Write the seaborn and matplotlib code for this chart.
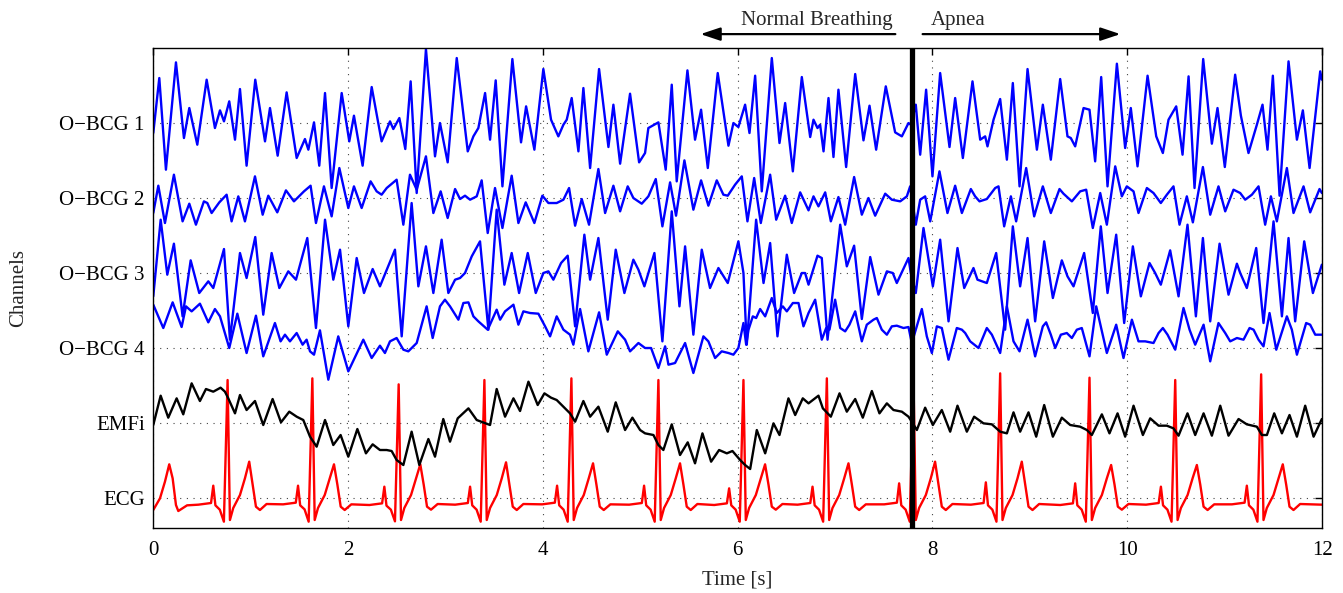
import numpy as np
import pandas as pd
import matplotlib
matplotlib.use("Agg")
import matplotlib.pyplot as plt
import seaborn as sns

# signal amplitudes in arbitrary units (225 units = one channel spacing)
SCALE = 225.0

channel_names = ["ECG", "EMFi", "O\u2212BCG 4", "O\u2212BCG 3", "O\u2212BCG 2", "O\u2212BCG 1"]

bcg1_t = [0.003, 0.065, 0.133, 0.236, 0.318, 0.373, 0.455, 0.551, 0.636, 0.688, 0.729, 0.783, 0.842, 0.893,
          0.961, 1.050, 1.150, 1.201, 1.280, 1.372, 1.475, 1.560, 1.595, 1.653, 1.707, 1.766, 1.834, 1.937,
          2.015, 2.063, 2.152, 2.245, 2.347, 2.433, 2.467, 2.529, 2.590, 2.645, 2.707, 2.802, 2.895, 2.946, 3.025,
          3.118, 3.231, 3.289, 3.340, 3.409, 3.460, 3.518, 3.587, 3.689, 3.778, 3.830, 3.915, 4.007, 4.086,
          4.161, 4.213, 4.247, 4.298, 4.367, 4.418, 4.487, 4.579, 4.675, 4.726, 4.795, 4.897, 4.990, 5.051,
          5.085, 5.188, 5.263, 5.325, 5.376, 5.486, 5.564, 5.626, 5.695, 5.797, 5.907, 5.958, 6.009, 6.078,
          6.123, 6.181, 6.249, 6.352, 6.431, 6.489, 6.568, 6.660, 6.746, 6.780, 6.821, 6.848, 6.883, 6.934,
          6.985, 7.036, 7.115, 7.208, 7.293, 7.355, 7.423, 7.522, 7.618, 7.687, 7.755, 7.779, 7.830, 7.875,
          7.936, 8.001, 8.080, 8.176, 8.234, 8.313, 8.412, 8.491, 8.542, 8.566, 8.628, 8.696, 8.765, 8.826,
          8.895, 8.977, 9.073,
          9.134, 9.216, 9.312, 9.387, 9.421, 9.466, 9.552, 9.613, 9.671, 9.733, 9.798, 9.894, 9.979, 10.037,
          10.106, 10.209, 10.298, 10.366, 10.424, 10.503, 10.568, 10.630, 10.691, 10.780, 10.869, 10.927,
          11.002, 11.108, 11.167, 11.245, 11.331, 11.389, 11.440, 11.495, 11.564, 11.656, 11.742, 11.803,
          11.872, 11.981, 11.998]
bcg1_v = [-30, 135, -140, 182, -45, 45, -65, 130, -15, 38, 5, 65, -50, 102, -128, 130, -55, 45, -98, 92,
          -105, -48, -80, 2, -128, 90, -195, 90, -55, 22, -128, 108, -55, 5, -18, 15, -78, 125, -210, 222,
          -100, 0, -118,
          195, -85, -40, -15, 90, -50, 128, -190, 192, -58, 50, -80, 162, 10, -40, -5, 10, 75, -85, 105,
          -135, 162, -72, 55, -122, 88, -118, -90, -15, 2, -140, 115, -175, 158, -50, 40, -135, 150, -68, 0,
          -12, 55,
          -30, 142, -205, 195, -60, 60, -145, 138, -42, 10, -15, -5, -85, 75, -102, 100, -132, 147, -52, 52,
          -80, 110, -28, -40, 0, -5, 55, -95, 100, -160, 150, -72, 75, -105, 125, -50, -40, -70, 10, 72,
          -110, 120, -190, 162, -80,
          55, -110, 132, -40, -45, -70, 45, 40, -115, 138, -190, 178, -75, 45, -130, 142, -40, -90, 10, 50,
          -95, 140, -195, 192, -62, 45, -132, 145, 22, -90, -5, 55, -80, 142, -218, 185, -50, 38, -135, 155,
          130]

bcg2_t = [0.003, 0.055, 0.123, 0.215, 0.304, 0.373, 0.441, 0.523, 0.558, 0.602, 0.681, 0.756, 0.807, 0.876,
          0.944, 1.047, 1.126, 1.184, 1.276, 1.365, 1.447, 1.550, 1.618, 1.673, 1.755, 1.834, 1.913, 2.005,
          2.063, 2.142, 2.234, 2.296, 2.347, 2.399, 2.501, 2.570, 2.638, 2.707, 2.802, 2.878, 2.953, 3.025,
          3.101, 3.152, 3.203, 3.255, 3.323, 3.374, 3.436, 3.511, 3.587, 3.682, 3.751, 3.826, 3.915, 3.997,
          4.059, 4.144, 4.213, 4.271, 4.333, 4.401, 4.476, 4.572, 4.641, 4.726, 4.795, 4.873, 4.931, 5.017,
          5.085, 5.161, 5.229, 5.308, 5.369, 5.455, 5.547, 5.626, 5.701, 5.787, 5.855, 5.900, 5.975, 6.044,
          6.102, 6.171, 6.239, 6.335, 6.397, 6.489, 6.557, 6.643, 6.729, 6.780, 6.831, 6.900, 6.958, 7.036,
          7.105, 7.197, 7.276, 7.344, 7.413, 7.516, 7.584, 7.670, 7.738, 7.772, 7.830, 7.875, 7.926, 7.978,
          8.073, 8.155, 8.234, 8.303, 8.395, 8.439, 8.484, 8.559, 8.645, 8.679, 8.737, 8.806, 8.860, 8.963,
          9.045, 9.134, 9.216, 9.305, 9.346, 9.432, 9.517, 9.579, 9.647, 9.723, 9.791, 9.877, 9.945, 9.996,
          10.065, 10.116, 10.202, 10.270, 10.345, 10.407, 10.475, 10.537, 10.612, 10.674, 10.777, 10.852,
          10.937, 11.006, 11.091, 11.160, 11.211, 11.280, 11.348, 11.416, 11.475, 11.536, 11.639, 11.707,
          11.810, 11.878, 11.974, 11.998]
bcg2_v = [-45, 37, -75, 70, -70, -17, -80, -10, -15, -45, -13, 10, -70, 5, -70, 65, -50, 7, -43, 23, -10,
          20, 37, -75, 35, -55, 90, -30, 35, -30, 50, 20, 10, 30, 55, -80, 70, 25, 125, -45, 20, -60,
          27, -3, 7, -5, 5, 53, -105, 30, -90, 67, -75, -13, -75, 7, -15, -15, -5, 30, -83, -3, -80, 87,
          -45, 37, -40, 35, 0, -17, 5, 57, -85, 47, -53, 113, -35, 53, -23, 53, 10, 7, 40, 65,
          -70, 60, -75, 70, -65, 7, -75, 17, -37, 5, -25, 17, -70, 3, -80, 63, -50, 0, -53, 13, -5, -10, 5,
          35, -80, -5, 5, -70, 80, -45, 37, -45, 27, 5, -10, -3, 30, 35, -85, 5, -70, 90,
          -55, 35, -45, 27, 13, -10, 20, 25, -90, 15, -80, 95, 5, 35, 20, -45, 30, 15, -15, 10, 35, -80, 5,
          -73, 93, -50, 35, -40, 25, 15, -5, 10, 35, -80, 5, -70, 90, -45, 35, -43, 27, 15]

bcg3_t = [0.003, 0.079, 0.147, 0.215, 0.304, 0.387, 0.475, 0.568, 0.619, 0.729, 0.790, 0.893, 0.961, 1.050,
          1.132, 1.218, 1.297, 1.389, 1.468, 1.584, 1.673, 1.766, 1.851, 1.920, 2.005, 2.091, 2.166, 2.255,
          2.330, 2.484, 2.553, 2.655, 2.724, 2.802, 2.878, 2.963, 3.032,
          3.101, 3.152, 3.203, 3.272, 3.357, 3.443, 3.528, 3.607, 3.682, 3.758, 3.847, 3.929, 4.007, 4.059,
          4.110, 4.189, 4.257, 4.333, 4.428, 4.487, 4.572, 4.668, 4.750, 4.839, 4.931, 4.983, 5.044, 5.147,
          5.229, 5.325, 5.404, 5.462, 5.547, 5.633, 5.718, 5.804, 5.900, 6.009, 6.061,
          6.095, 6.191, 6.267, 6.335, 6.410, 6.506, 6.581, 6.660, 6.694, 6.729, 6.821, 6.865, 6.924, 7.054,
          7.122, 7.197, 7.276, 7.362, 7.447, 7.533, 7.594, 7.635, 7.755, 7.779, 7.830, 7.909, 8.005, 8.080,
          8.166, 8.258, 8.327, 8.422, 8.463, 8.559, 8.655, 8.747, 8.826, 8.901, 8.977, 9.055,
          9.148, 9.237, 9.329, 9.387, 9.449, 9.558, 9.647, 9.729, 9.798, 9.887, 9.969, 10.058, 10.140, 10.229,
          10.287, 10.345, 10.441, 10.527, 10.619, 10.705, 10.777, 10.852, 10.948, 11.040, 11.126, 11.160,
          11.228, 11.324, 11.399, 11.502, 11.588, 11.656, 11.724, 11.817, 11.906, 11.998]
bcg3_v = [-70, 160, -5, 88, -130, 38, -60, -25, -45, 72, -200, 60, -15, 108, -125, 60, -45, 5, -20, 105,
          -165, 160, -20, 70, -160, 45, -60, 12, -40, 70, -190, 210, -40, 80, -60, 100, -60,
          -20, -15, 0, 50, 95, -170, 190, -35, 60, -60, 60, -60, 0, 5, -20, 30, 52, -160, 115, -20, 105,
          -140, 70, -60, 40, 10, -40, 60, -205, 185, -100, 80, -185, 70, -45, 15, -30, 95, 0,
          -215, 160, -30, 90, -190, 55, -60, 0, 0, -35, 52, 45, -200, 145, 20, 82, -138, 48, -65, 5, 0, -30,
          45, 0, -60, 135, -40, 100, -145, 75, -45, 15, -20, -30, 60, -170, 140, -40, 105, -145,
          95, -75, 38, -10, -40, 60, -120, 140, -60, 115, -150, 80, -70, 30, 0, -35, 68, -70, 145, -130, 105,
          -145, 88, -65, 28, 0, -45, 75, -150, 155, -130, 105, -145, 95, -60, 25]

bcg4_t = [0.003, 0.106, 0.202, 0.294, 0.339, 0.397, 0.482, 0.568, 0.636, 0.688, 0.783, 0.866, 0.961, 1.057,
          1.132, 1.252, 1.310, 1.355, 1.406, 1.475, 1.536, 1.577, 1.612, 1.653, 1.714, 1.800, 1.902, 2.005,
          2.159, 2.245, 2.330, 2.381, 2.433, 2.501, 2.570, 2.621, 2.707, 2.809, 2.871, 2.946, 2.997,
          3.049, 3.135, 3.186, 3.238, 3.289, 3.340, 3.436, 3.528, 3.563, 3.614, 3.700, 3.751, 3.802, 3.871,
          3.956, 4.025, 4.076, 4.144, 4.213, 4.281, 4.315, 4.384, 4.469, 4.579, 4.658, 4.771, 4.846, 4.897,
          4.983, 5.051, 5.113, 5.188, 5.257, 5.291, 5.359, 5.462, 5.547, 5.650, 5.701, 5.770, 5.838, 5.907,
          5.958, 6.009, 6.061,
          6.089, 6.113, 6.157, 6.191, 6.232, 6.284, 6.352, 6.403, 6.465, 6.506, 6.568, 6.626, 6.677, 6.729,
          6.797, 6.865, 6.910, 6.944, 7.002, 7.054, 7.105, 7.149, 7.208, 7.276, 7.327, 7.396, 7.430, 7.481,
          7.533, 7.584, 7.635, 7.704, 7.755, 7.789, 7.830, 7.892, 7.943, 7.995, 8.046, 8.097, 8.166, 8.251,
          8.303, 8.337, 8.388, 8.474, 8.559, 8.611, 8.696, 8.765, 8.833, 8.895, 8.977,
          9.055, 9.134, 9.168, 9.216, 9.261, 9.319, 9.380, 9.432, 9.483, 9.534, 9.613, 9.682, 9.729, 9.791,
          9.887, 9.962, 10.048, 10.116, 10.185, 10.270, 10.322, 10.366, 10.414, 10.493, 10.578, 10.640,
          10.698, 10.784, 10.852, 10.937, 11.006, 11.057, 11.126, 11.194, 11.256, 11.297, 11.348, 11.399,
          11.461, 11.530, 11.639, 11.690, 11.742, 11.837, 11.878, 11.930, 11.998]
bcg4_v = [130, 60, 137, 63, 125, 110, 133, 77, 117, 95, 0, 103, -15, 97, -25, 75, 20, 40, 20, 45, 10, 25,
          -10, -20, 53, -95, 35, -70, 25, -30, 7, -15, 20, 30, -5, -10, 15, 125, 30, 125, 145,
          125, 85, 135, 137, 95, 80, 55, 115, 85, 110, 130, 70, 110, 105, 103, 65, 35, 95, 55, 40, 10, 117,
          -10, 107, -20, 50, 25, -10, 15, 0, 0, -60, 5, -50, -45, 15, -75, 35, 20, -30, -10, -15, -20, 0, 75,
          10, 55, 95, 90, 117, 95, 150, 105, 125, 110, 135, 135, 65, 105, 145, 25, 60, 55, 145, 60, 50, 70,
          110, 20, 70, 85, 90, 55, 40, 65, 67, 60, 63, 15, 55, 117, 35, -15, 65, 60, -35, 60, 55, 45, 20, 0,
          60, 40, -15, 125, 20, -10, 85,
          -25, 65, 77, 40, 0, 40, 45, 30, 55, 60, -25, 125, 65, -15, 70, -30, 85, 20, 20, 15, 45, 60, 40, -5,
          120, 55, 10, 70, -40, 75, 45, 20, 30, 25, 60, 55, 25, 5, 105, -5, 95, 55, -20, 75, 70, 40, 40]

emfi_t = [0.003, 0.079, 0.157, 0.243, 0.311, 0.397, 0.482, 0.544, 0.619, 0.694, 0.739, 0.773, 0.842, 0.893,
          0.961, 1.047, 1.132, 1.228, 1.314, 1.399, 1.475, 1.543, 1.612, 1.680, 1.766, 1.851, 1.926, 2.005,
          2.098, 2.186, 2.255, 2.330, 2.399, 2.450, 2.501, 2.570, 2.655, 2.734, 2.827, 2.895, 2.980,
          3.049, 3.128, 3.238, 3.323, 3.460, 3.528, 3.614, 3.700, 3.768, 3.854, 3.949, 4.018, 4.086, 4.144,
          4.213, 4.281, 4.333, 4.418, 4.487, 4.572, 4.668, 4.750, 4.846, 4.921, 5.000, 5.051, 5.137, 5.188,
          5.239, 5.325, 5.410, 5.489, 5.564, 5.640, 5.729, 5.811, 5.890, 5.948, 6.027,
          6.078, 6.130, 6.198, 6.284, 6.369, 6.431, 6.523, 6.592, 6.670, 6.729, 6.831, 6.876, 6.958, 7.047,
          7.122, 7.208, 7.286, 7.379, 7.457, 7.533, 7.601, 7.687, 7.755, 7.789, 7.841, 7.926, 8.005, 8.097,
          8.183, 8.258, 8.354, 8.429, 8.525, 8.611, 8.696, 8.765, 8.833, 8.901, 8.987,
          9.066, 9.148, 9.237, 9.329, 9.415, 9.517, 9.586, 9.637, 9.740, 9.818, 9.901, 9.979, 10.065, 10.161,
          10.236, 10.322, 10.407, 10.475, 10.527, 10.619, 10.698, 10.784, 10.869, 10.955, 11.040, 11.143,
          11.228, 11.331, 11.382, 11.434, 11.509, 11.588, 11.666, 11.742, 11.827, 11.913, 11.998]
emfi_v = [-6, 82, 16, 74, 26, 119, 66, 102, 94, 106, 94, 74, 29, 84, 39, 66, -6, 72, 2, 34, 19, 9, -41, -71,
          9, -66, -36, -101, -18, -91, -64, -81, -81, -84, -111, -126, -26, -126, -48, -101, 12,
          -56, 14, 44, 9, -6, 102, 19, 74, 36, 124, 54, 89, 76, 69, 49, 29, 4, 66, 19, 49, -26, 62, -21, 16,
          -21, -31, -36, -66, -81, -4, -96, -58, -121, -31, -116, -81, -91, -84, -111,
          -126, -138, -21, -91, -1, -36, 74, 24, 74, 59, 82, 44, 19, 89, 34, 72, 16, 96, 29, 59, 39, 34, 19,
          4, -21, 46, -6, 39, -26, 52, -26, 19, -1, -4, -26, -31, 32, -26, 32,
          -41, 54, -41, 16, -6, -11, -21, -36, 26, -31, 29, -41, 52, -36, 14, -8, -8, -16, -38, 29, -36, 29,
          -38, 52, -38, 12, -4, -11, -36, -36, 29, -31, 24, -41, 52, -41, 12]

ecg_t = [0.003, 0.072, 0.123, 0.167, 0.202, 0.236, 0.260, 0.350,
         0.466, 0.596, 0.619, 0.641, 0.686, 0.728, 0.766, 0.790, 0.824, 0.893, 0.944, 0.988, 1.023, 1.057, 1.098, 1.166,
         1.336, 1.466, 1.489, 1.511, 1.556, 1.598, 1.636, 1.660, 1.694, 1.763, 1.814, 1.858, 1.893, 1.927, 1.968, 2.036,
         2.222, 2.352, 2.375, 2.397, 2.442, 2.484, 2.522, 2.546, 2.580, 2.649, 2.700, 2.744, 2.779, 2.813, 2.854, 2.922,
         3.102, 3.232, 3.255, 3.277, 3.322, 3.364, 3.402, 3.426, 3.460, 3.529, 3.580, 3.624, 3.659, 3.693, 3.734, 3.802,
         3.995, 4.125, 4.148, 4.170, 4.215, 4.257, 4.295, 4.319, 4.353, 4.422, 4.473, 4.517, 4.552, 4.586, 4.627, 4.695,
         4.888, 5.018, 5.041, 5.063, 5.108, 5.150, 5.188, 5.212, 5.246, 5.315, 5.366, 5.410, 5.445, 5.479, 5.520, 5.588,
         5.761, 5.891, 5.914, 5.936, 5.981, 6.023, 6.061, 6.085, 6.119, 6.188, 6.239, 6.283, 6.318, 6.352, 6.393, 6.461,
         6.617, 6.747, 6.770, 6.792, 6.837, 6.879, 6.917, 6.941, 6.975, 7.044, 7.095, 7.139, 7.174, 7.208, 7.249, 7.317,
         7.506, 7.636, 7.659, 7.681, 7.726, 7.768, 7.806, 7.830, 7.864, 7.933, 7.984, 8.028, 8.063, 8.097, 8.138, 8.206,
         8.396, 8.526, 8.549, 8.571, 8.616, 8.658, 8.696, 8.720, 8.754, 8.823, 8.874, 8.918, 8.953, 8.987, 9.028, 9.096,
         9.313, 9.443, 9.466, 9.488, 9.533, 9.575, 9.613, 9.637, 9.671, 9.740, 9.791, 9.835, 9.870, 9.904, 9.945, 10.013,
         10.193, 10.323, 10.346, 10.368, 10.413, 10.455, 10.493, 10.517, 10.551, 10.620, 10.671, 10.715, 10.750, 10.784, 10.825, 10.893,
         11.075, 11.205, 11.228, 11.250, 11.295, 11.337, 11.375, 11.399, 11.433, 11.502, 11.553, 11.597, 11.632, 11.666, 11.707, 11.775,
         12.000]
ecg_v = [-36, -1, 49, 101, 59, -21, -39, -22,
         -20, -15, 37, -22, -35, -71, 354, -66, -30, 9, 59, 109, 40, -26, -36, -18,
         -19, -14, 37, -22, -34, -71, 359, -66, -30, 9, 59, 101, 40, -26, -36, -19,
         -21, -16, 34, -23, -35, -70, 341, -66, -30, 9, 59, 101, 40, -26, -35, -18,
         -20, -15, 34, -22, -35, -71, 354, -66, -30, 9, 59, 107, 40, -26, -36, -18,
         -19, -14, 37, -22, -35, -71, 359, -66, -30, 9, 59, 104, 40, -26, -36, -19,
         -20, -15, 37, -22, -35, -71, 354, -66, -30, 9, 59, 104, 40, -26, -36, -18,
         -21, -16, 29, -22, -35, -71, 354, -66, -30, 9, 59, 101, 40, -26, -35, -18,
         -20, -15, 34, -22, -35, -71, 359, -66, -30, 9, 59, 104, 40, -26, -36, -19,
         -19, -14, 44, -22, -35, -71, 360, -66, -30, 9, 59, 109, 40, -26, -36, -18,
         -20, -15, 47, -22, -35, -71, 374, -66, -30, 9, 59, 109, 40, -26, -36, -18,
         -21, -16, 44, -22, -35, -71, 361, -66, -30, 9, 59, 99, 40, -26, -35, -18,
         -20, -15, 34, -22, -35, -71, 354, -66, -30, 9, 59, 99, 40, -26, -36, -19,
         -19, -14, 37, -22, -35, -71, 371, -66, -30, 9, 59, 101, 40, -26, -36, -18,
         -20]

apnea_onset = 7.79

sns.set_theme(style="white")
plt.rcParams["font.family"] = ["Liberation Serif", "DejaVu Serif"]

fig, ax = plt.subplots(figsize=(13.43, 5.93), dpi=100)
fig.subplots_adjust(left=0.1139, right=0.9844, top=0.919, bottom=0.1096)

signals = [
    (ecg_t, ecg_v, "#ff0000"),
    (emfi_t, emfi_v, "#000000"),
    (bcg4_t, bcg4_v, "#0000ff"),
    (bcg3_t, bcg3_v, "#0000ff"),
    (bcg2_t, bcg2_v, "#0000ff"),
    (bcg1_t, bcg1_v, "#0000ff"),
]
for k, (t, v, col) in enumerate(signals):
    df = pd.DataFrame({"t": t, "y": k + 1 + np.asarray(v, dtype=float) / SCALE})
    sns.lineplot(data=df, x="t", y="y", color=col, lw=1.7, estimator=None, sort=False, ax=ax,
                 solid_joinstyle="round", solid_capstyle="round")

ax.axvline(apnea_onset, color="black", lw=3.8, zorder=5)

ax.set_xlim(0, 12)
ax.set_ylim(0.6, 7.0)
ax.set_xticks(range(0, 13, 2))
ax.set_yticks(range(1, 7))
ax.set_yticklabels(channel_names)
ax.set_axisbelow(True)
ax.grid(True, color="#444444", linestyle=(0, (1, 5)), lw=0.8)
ax.tick_params(direction="in", length=5, width=1, top=True, right=True, labelsize=15,
               colors="black", pad=6)
ax.tick_params(axis="x", pad=9)
for s in ax.spines.values():
    s.set_visible(True)
    s.set_color("black")
    s.set_linewidth(1.0)
ax.set_xlabel("Time [s]", fontsize=15, labelpad=8)
ax.set_ylabel("Channels", fontsize=15, labelpad=22)

trans = ax.get_xaxis_transform()
arrow = dict(arrowstyle="-|>,head_length=1.2,head_width=0.4", color="black", lw=1.6,
             mutation_scale=10, shrinkA=0, shrinkB=0)
ax.annotate("", xy=(5.62, 1.029), xytext=(7.62, 1.029), xycoords=trans, textcoords=trans,
            arrowprops=arrow, annotation_clip=False)
ax.annotate("", xy=(9.93, 1.029), xytext=(7.90, 1.029), xycoords=trans, textcoords=trans,
            arrowprops=arrow, annotation_clip=False)
ax.text(6.81, 1.058, "Normal Breathing", transform=trans, ha="center", va="center", fontsize=15)
ax.text(7.98, 1.058, "Apnea", transform=trans, ha="left", va="center", fontsize=15)

fig.savefig("out.png", dpi=100)
